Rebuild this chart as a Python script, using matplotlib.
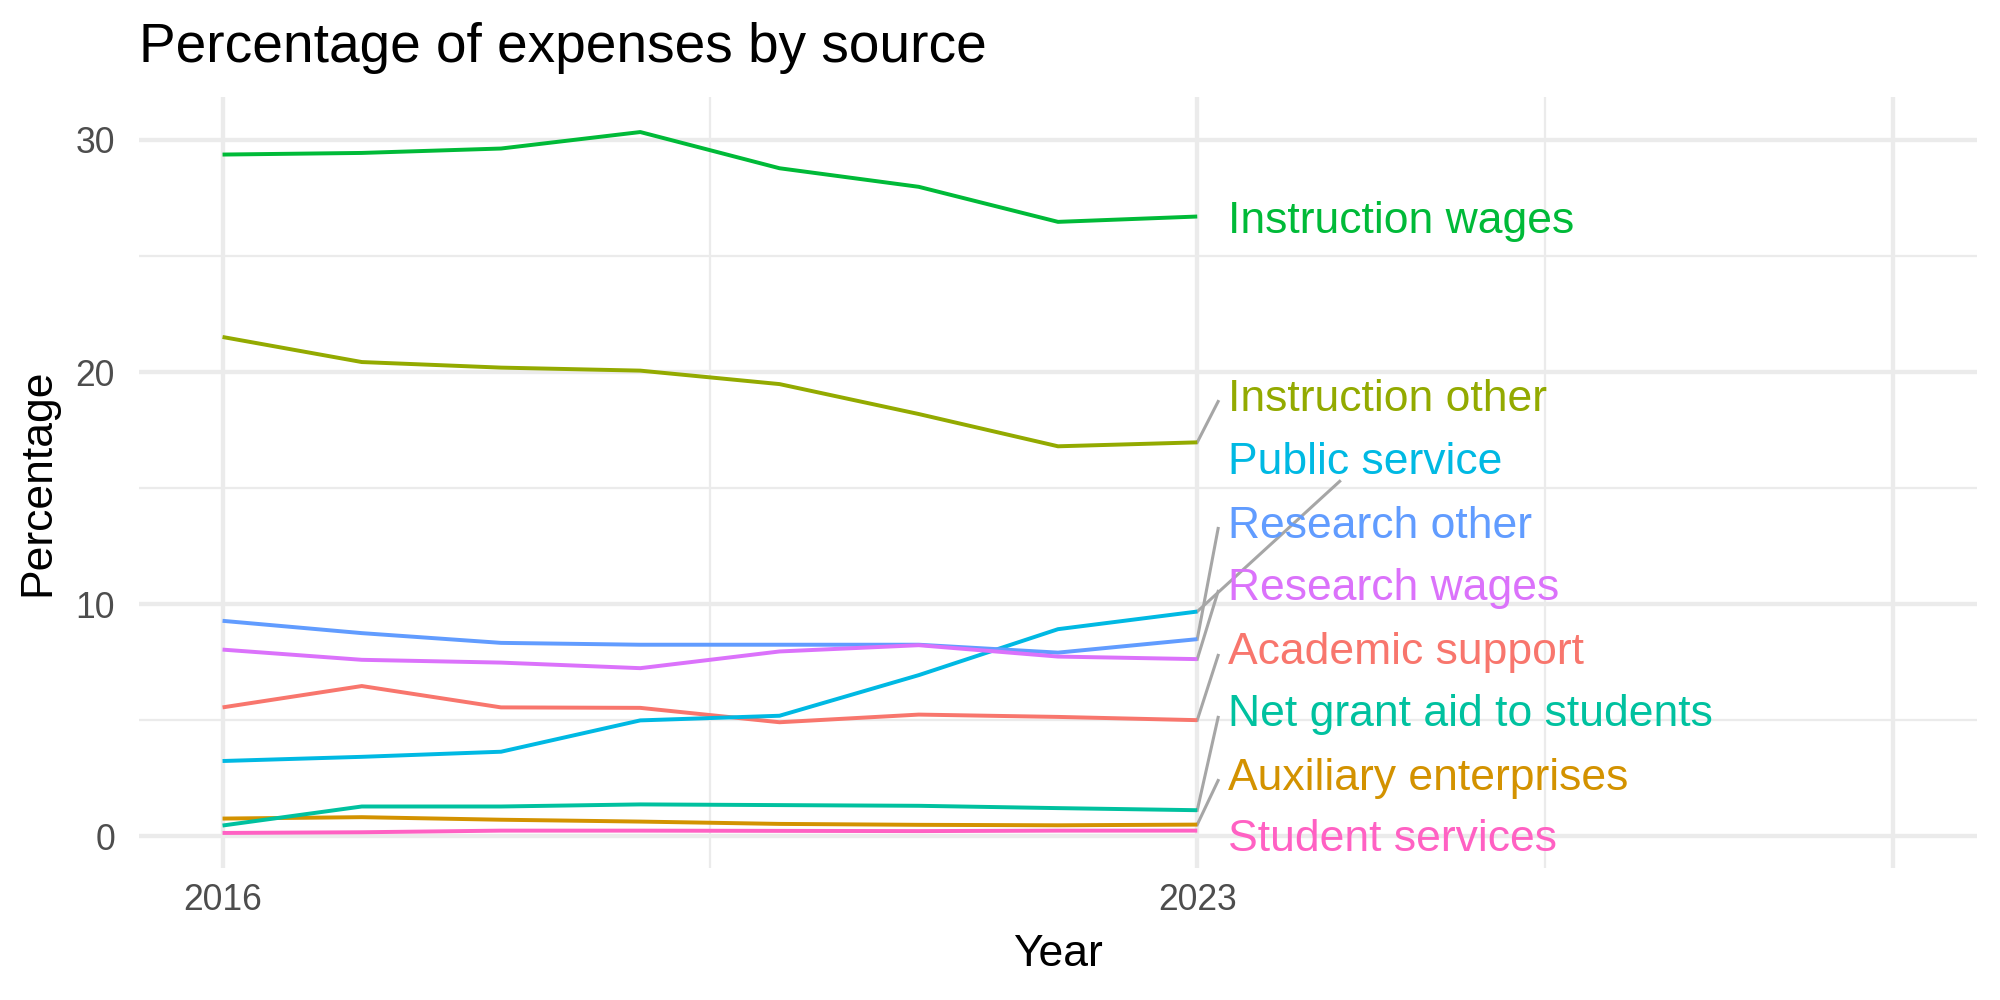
import matplotlib
matplotlib.use("Agg")
import matplotlib.pyplot as plt

plt.rcParams["font.family"] = ["Liberation Sans", "DejaVu Sans"]

# Daten
years = [2016, 2017, 2018, 2019, 2020, 2021, 2022, 2023]
sources = [
    "Academic support",
    "Auxiliary enterprises",
    "Instruction other",
    "Instruction wages",
    "Net grant aid to students",
    "Public service",
    "Research other",
    "Research wages",
    "Student services",
]
academic_support = [5.55, 6.47, 5.55, 5.53, 4.91, 5.24, 5.14, 5.00]
auxiliary_enterprises = [0.76, 0.82, 0.71, 0.63, 0.53, 0.49, 0.47, 0.50]
instruction_other = [21.51, 20.43, 20.19, 20.06, 19.48, 18.19, 16.80, 16.97]
instruction_wages = [29.37, 29.44, 29.63, 30.34, 28.78, 27.98, 26.47, 26.70]
net_grant_aid = [0.46, 1.28, 1.28, 1.37, 1.34, 1.31, 1.21, 1.12]
public_service = [3.24, 3.42, 3.64, 4.99, 5.19, 6.94, 8.92, 9.68]
research_other = [9.28, 8.75, 8.33, 8.25, 8.25, 8.25, 7.91, 8.49]
research_wages = [8.04, 7.60, 7.48, 7.24, 7.96, 8.23, 7.74, 7.63]
student_services = [0.14, 0.17, 0.24, 0.24, 0.23, 0.22, 0.24, 0.24]

# Position der Beschriftungen (wie von ggrepel verschoben)
label_y = [8.09, 2.70, 19.03, 26.69, 5.42, 16.29, 13.56, 10.85, 0.04]
label_side = ["left", "left", "left", "none", "left", "bottom", "left", "left", "none"]

colors = ["#F8766D", "#D39200", "#93AA00", "#00BA38", "#00C19F",
          "#00B9E3", "#619CFF", "#DB72FB", "#FF61C3"]

series = [academic_support, auxiliary_enterprises, instruction_other,
          instruction_wages, net_grant_aid, public_service,
          research_other, research_wages, student_services]

fig = plt.figure(figsize=(10, 5), dpi=200)
ax = fig.add_axes([0.0695, 0.132, 0.919, 0.771])

for name, vals, col in zip(sources, series, colors):
    ax.plot(years, vals, color=col, lw=1.42, solid_capstyle="butt", zorder=3)

# Achsenbereich mit 5% Rand wie ggplot
all_vals = [v for s in series for v in s]
ymin, ymax = min(all_vals), max(all_vals)
pad = (ymax - ymin) * 0.05
ax.set_ylim(ymin - pad, ymax + pad)
ax.set_xlim(2016 - 0.6, 2028 + 0.6)

ax.set_yticks([0, 10, 20, 30])
ax.set_yticks([5, 15, 25], minor=True)
ax.set_xticks([2016, 2023, 2028])
ax.set_xticklabels(["2016", "2023", ""])
ax.set_xticks([2019.5, 2025.5], minor=True)

ax.grid(which="major", color="#EBEBEB", lw=1.55, zorder=0)
ax.grid(which="minor", color="#EBEBEB", lw=0.8, zorder=0)
ax.set_axisbelow(True)
for sp in ax.spines.values():
    sp.set_visible(False)
ax.tick_params(which="both", length=0, labelsize=12.8, labelcolor="#4D4D4D")
ax.tick_params(axis="y", pad=8.6)
ax.tick_params(axis="x", pad=5.5)

# Beschriftungen
label_x = 2023.22
cap_half = 0.69
texts = []
for name, col, ly in zip(sources, colors, label_y):
    t = ax.text(label_x, ly - cap_half, name, color=col, fontsize=16,
                ha="left", va="baseline", zorder=4)
    texts.append(t)

fig.canvas.draw()
renderer = fig.canvas.get_renderer()
inv = ax.transData.inverted()
x_end = years[-1]
for name, vals, t, ly, side in zip(sources, series, texts, label_y, label_side):
    v = vals[-1]
    if side == "none":
        continue
    if side == "left":
        ex, ey = label_x - 0.07, ly - 0.3
    else:
        bb = t.get_window_extent(renderer).transformed(inv)
        cx = (bb.x0 + bb.x1) / 2
        ey = ly - 1.0
        frac = (ey - v) / (ly - v)
        ex = x_end + frac * (cx - x_end)
    ax.plot([x_end, ex], [v, ey], color="#A6A6A6", lw=1.1, zorder=2)

fig.text(0.0695, 0.9377, "Percentage of expenses by source", fontsize=19.8,
         ha="left", va="baseline")
fig.text(1058 / 2000, 1 - 965.6 / 1000, "Year", fontsize=16, ha="center", va="baseline")
fig.text(37.5 / 2000, 1 - 482.5 / 1000, "Percentage", fontsize=16, rotation=90,
         ha="center", va="center")

fig.savefig("out.png", dpi=200)
